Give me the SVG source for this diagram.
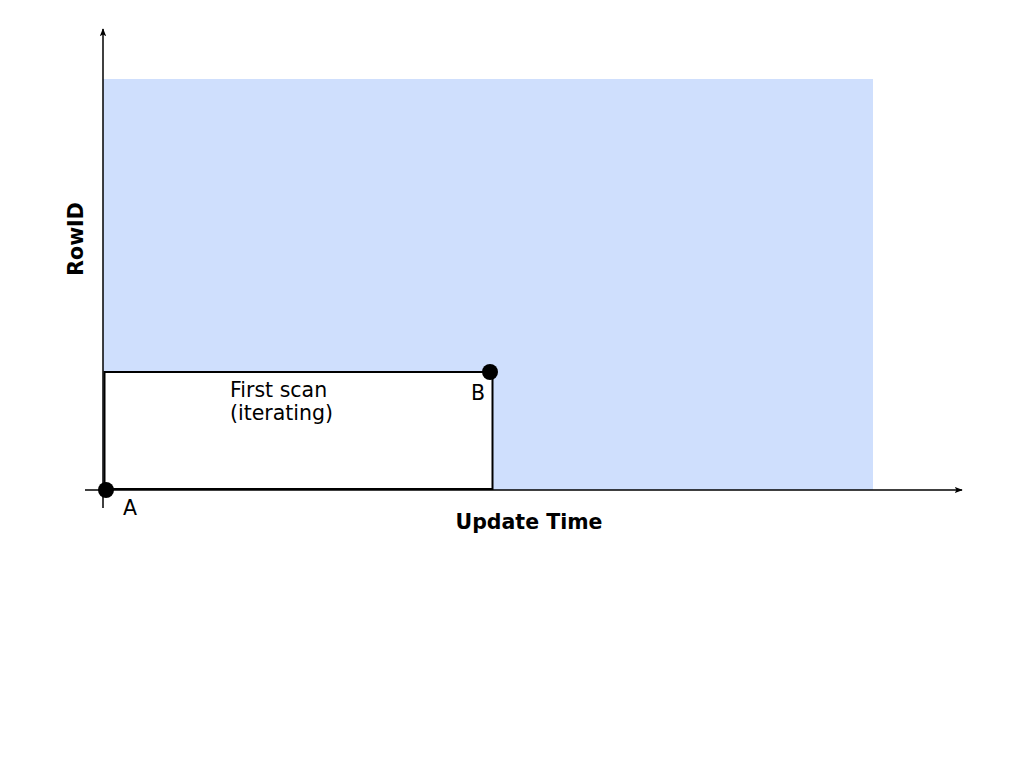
<svg xmlns="http://www.w3.org/2000/svg" width="1024" height="768" viewBox="0 0 1024 768">
<defs>
<style>
text{font-family:"DejaVu Sans",sans-serif;font-size:20.5px;fill:#000}
.b{font-weight:bold}
.ax{stroke:#000;stroke-width:1.5;fill:none}
.dot{fill:#000}
</style>
<marker id="arr" viewBox="0 0 10 10" refX="9" refY="5" markerWidth="8" markerHeight="8" orient="auto" markerUnits="userSpaceOnUse">
<path d="M0,1 L10,5 L0,9 L2,5 Z" fill="#000"/>
</marker>
</defs>
<rect id="area" x="103" y="79" width="770" height="411" fill="#cfdffd"/>
<g id="first-scan">
<rect x="104.5" y="372" width="388" height="117" fill="#fff" stroke="#000" stroke-width="2"/>
<text x="230" y="397">First scan</text>
<text x="230" y="420">(iterating)</text>
</g>
<g id="connectors">
<line class="ax" x1="103" y1="508" x2="103" y2="29" marker-end="url(#arr)"/>
<line class="ax" x1="85" y1="490" x2="962" y2="490" marker-end="url(#arr)"/>
</g>
<g id="pointA">
<circle class="dot" cx="106" cy="490" r="8"/>
<text x="123" y="515">A</text>
</g>
<g id="pointB">
<circle class="dot" cx="490" cy="372" r="8"/>
<text x="471" y="400">B</text>
</g>
<text class="b" x="529" y="529" text-anchor="middle">Update Time</text>
<text class="b" transform="translate(83,239) rotate(-90)" text-anchor="middle">RowID</text>
</svg>
